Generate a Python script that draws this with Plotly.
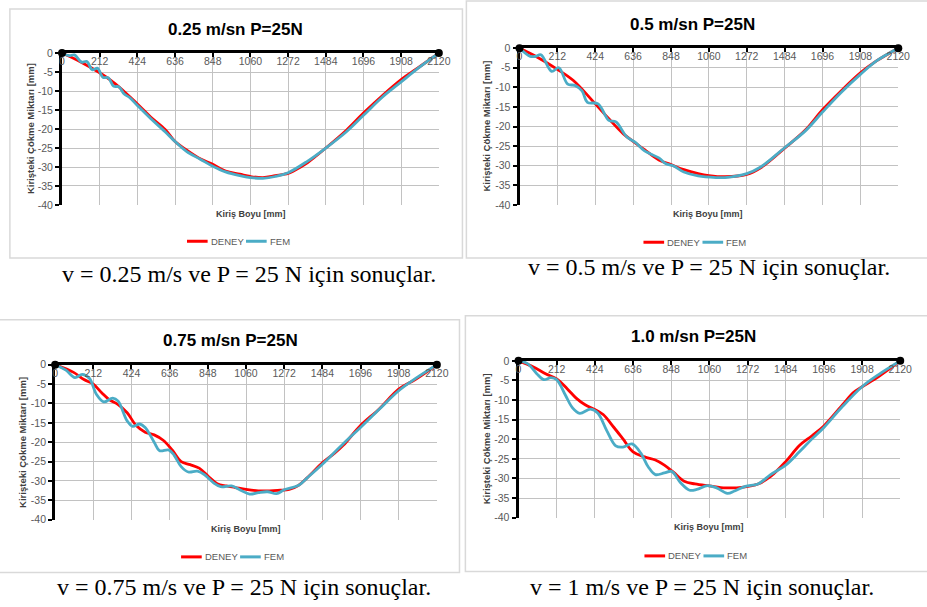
import plotly.graph_objects as go

W, H = 927, 607

# ---------------- data ----------------
x_ticks = [0, 212, 424, 636, 848, 1060, 1272, 1484, 1696, 1908, 2120]
y_ticks = [-40, -35, -30, -25, -20, -15, -10, -5, 0]

titles = ["0.25 m/sn P=25N", "0.5 m/sn P=25N", "0.75 m/sn P=25N", "1.0 m/sn P=25N"]
captions = ["v = 0.25 m/s ve P = 25 N için sonuçlar.",
            "v = 0.5 m/s ve P = 25 N için sonuçlar.",
            "v = 0.75 m/s ve P = 25 N için sonuçlar.",
            "v = 1 m/s ve P = 25 N için sonuçlar."]
x_title = "Kiriş Boyu [mm]"
y_title = "Kirişteki Çökme Miktarı [mm]"
series_names = ["DENEY", "FEM"]

# v = 0.25 m/s
deney1_x = [0, 100, 212, 300, 424, 500, 580, 636, 700, 780, 848, 920, 1000, 1060, 1130, 1200, 1272, 1300, 1380, 1484, 1600, 1696, 1800, 1908, 2000, 2120]
deney1_y = [0, -2.2, -5.2, -8.1, -13.4, -16.9, -20.1, -23.3, -25.5, -27.9, -29.3, -31.1, -31.9, -32.5, -32.8, -32.3, -31.7, -31.1, -28.9, -25.0, -20.3, -15.8, -11.3, -7.0, -4.0, 0]
fem1_x = [0, 40, 70, 110, 140, 170, 200, 230, 260, 290, 320, 350, 380, 424, 500, 580, 636, 700, 780, 848, 920, 1000, 1060, 1130, 1200, 1272, 1380, 1484, 1600, 1696, 1800, 1908, 2000, 2120]
fem1_y = [0, -0.7, -0.5, -2.4, -2.2, -4.4, -4.0, -6.4, -6.5, -8.7, -8.9, -10.8, -11.7, -13.8, -17.3, -20.7, -23.3, -25.9, -28.0, -29.8, -31.3, -32.3, -32.8, -33.0, -32.5, -31.5, -28.5, -25.0, -20.7, -16.4, -11.7, -7.6, -4.1, 0]

# v = 0.5 m/s
deney2_x = [0, 100, 212, 300, 424, 500, 580, 636, 700, 780, 848, 920, 1000, 1060, 1150, 1272, 1350, 1484, 1600, 1696, 1800, 1908, 2000, 2120]
deney2_y = [0, -2.3, -5.4, -8.2, -14.2, -18.0, -21.8, -23.8, -25.9, -28.5, -29.7, -31.0, -32.0, -32.5, -32.8, -32.2, -30.5, -25.5, -20.9, -15.7, -10.9, -6.3, -3.2, 0]
fem2_x = [0, 60, 90, 120, 180, 220, 270, 310, 350, 380, 440, 500, 540, 600, 650, 700, 780, 820, 860, 920, 1000, 1100, 1150, 1272, 1350, 1484, 1600, 1696, 1800, 1908, 2000, 2120]
fem2_y = [0, -2.1, -2.1, -1.7, -5.9, -5.0, -9.2, -9.5, -10.9, -13.8, -14.2, -18.4, -18.8, -22.6, -24.1, -26.2, -28.0, -29.5, -30.0, -31.6, -32.6, -33.0, -33.0, -32.0, -30.3, -25.4, -21.1, -16.3, -11.3, -6.7, -3.2, 0]

# v = 0.75 m/s
deney3_x = [0, 100, 160, 212, 260, 300, 350, 400, 450, 500, 550, 600, 650, 700, 750, 800, 850, 900, 950, 1000, 1060, 1150, 1250, 1300, 1350, 1400, 1484, 1550, 1600, 1696, 1800, 1908, 2000, 2120]
deney3_y = [0, -1.9, -3.8, -5.0, -7.3, -9.0, -10.3, -12.4, -15.7, -17.4, -18.1, -19.5, -22.0, -25.0, -25.8, -26.7, -28.8, -30.7, -31.3, -31.7, -32.2, -32.6, -32.4, -32.2, -31.2, -29.2, -25.3, -22.9, -20.8, -15.7, -11.4, -6.3, -3.8, 0]
fem3_x = [0, 60, 110, 150, 190, 230, 270, 320, 350, 400, 430, 470, 500, 550, 580, 630, 660, 700, 740, 790, 830, 880, 920, 980, 1030, 1080, 1130, 1180, 1230, 1272, 1350, 1400, 1484, 1600, 1696, 1800, 1908, 2000, 2120]
fem3_y = [0, -1.4, -3.3, -2.5, -3.5, -7.7, -9.6, -8.6, -9.4, -14.5, -15.9, -15.3, -16.2, -20.0, -22.2, -22.0, -23.3, -26.3, -27.7, -27.5, -28.4, -30.5, -31.5, -31.3, -32.4, -33.4, -33.0, -32.8, -33.3, -32.3, -31.2, -29.2, -25.7, -20.4, -16.2, -11.5, -6.7, -3.6, 0]

# v = 1.0 m/s
deney4_x = [0, 80, 150, 212, 270, 320, 370, 424, 470, 530, 580, 636, 700, 760, 810, 860, 920, 980, 1060, 1150, 1250, 1330, 1400, 1484, 1560, 1630, 1696, 1800, 1860, 1908, 2000, 2120]
deney4_y = [0, -1.5, -3.3, -4.6, -7.1, -9.5, -11.2, -12.4, -13.7, -17.0, -19.9, -23.2, -24.5, -25.3, -26.6, -28.4, -30.7, -31.4, -31.9, -32.4, -32.2, -31.4, -29.5, -25.7, -21.6, -19.1, -16.6, -11.2, -8.1, -6.6, -4.0, 0]
fem4_x = [0, 50, 100, 140, 180, 212, 260, 300, 340, 400, 440, 490, 540, 580, 630, 680, 720, 760, 810, 850, 900, 950, 990, 1050, 1100, 1160, 1200, 1260, 1330, 1400, 1484, 1560, 1630, 1696, 1800, 1908, 2000, 2120]
fem4_y = [0, -0.7, -3.2, -4.8, -4.3, -4.8, -8.7, -12.0, -13.4, -12.3, -13.3, -17.8, -21.7, -22.0, -21.2, -23.6, -27.0, -29.0, -28.6, -28.2, -31.1, -33.0, -32.8, -31.8, -32.4, -33.8, -33.2, -32.0, -31.4, -29.0, -26.6, -23.2, -19.9, -17.0, -11.6, -6.6, -3.5, 0]

end_x = [0, 2120]
end_y = [0, 0]

deney = [(deney1_x, deney1_y), (deney2_x, deney2_y), (deney3_x, deney3_y), (deney4_x, deney4_y)]
fem = [(fem1_x, fem1_y), (fem2_x, fem2_y), (fem3_x, fem3_y), (fem4_x, fem4_y)]

# ---------------- layout (window pixel geometry) ----------------
plot_px = [(60, 443, 48, 203), (525, 910, 43, 203), (53, 441, 366, 524), (524, 912, 362, 522)]
box_px = [(7, 467, 3, 257), (471, 940, -5, 257), (-5, 464, 320, 578), (470, 940, 316, 577)]
title_pos = [(236, 24), (701, 19), (231, 341), (702, 337)]
xlab_pos = [(252, 212), (717, 212), (247, 534), (718, 532)]
ylab_pos = [(28, 125), (492, 123), (20, 445), (491, 442)]
leg_start = [187, 651, 181, 652]
leg_y = [240, 241, 562, 561]
cap_pos = [(250, 273), (718, 266), (245, 593), (710, 593)]

RED = "#FF0000"
BLUE = "#4BACC6"
GRAY = "#595959"
FONT = "Liberation Sans"


def px(x):
    return x / W


def py(y):
    return 1 - y / H


fig = go.Figure()
layout = dict(width=W, height=H, margin=dict(l=0, r=0, t=0, b=0),
              paper_bgcolor="white", plot_bgcolor="white", showlegend=False)
annotations = []
shapes = []

for i in range(4):
    n = "" if i == 0 else str(i + 1)
    xa, ya = "x" + n, "y" + n
    x0, x1, y0, y1 = plot_px[i]
    layout["xaxis" + n] = dict(
        domain=[px(x0), px(x1)], anchor=ya, side="top", range=[0, 2120],
        tickvals=x_ticks, ticktext=[str(v) for v in x_ticks],
        ticklabelposition="inside", ticklabeloverflow="allow",
        ticks="inside", ticklen=4, tickwidth=2, tickcolor="black",
        showline=True, linecolor="black", linewidth=3,
        showgrid=True, gridcolor="#c2c2c2", gridwidth=1, zeroline=False,
        tickfont=dict(family=FONT, size=10.5, color=GRAY), fixedrange=True)
    layout["yaxis" + n] = dict(
        domain=[py(y1), py(y0)], anchor=xa, range=[-40, 0],
        tickvals=y_ticks, ticktext=[str(v) for v in y_ticks],
        ticklabeloverflow="allow",
        ticks="outside", ticklen=4, tickwidth=2, tickcolor="black",
        showline=True, linecolor="black", linewidth=3,
        showgrid=True, gridcolor="#c2c2c2", gridwidth=1, zeroline=False,
        tickfont=dict(family=FONT, size=10.5, color=GRAY), fixedrange=True)

    fig.add_trace(go.Scatter(x=deney[i][0], y=deney[i][1], mode="lines", name=series_names[0],
                             line=dict(color=RED, width=2.8, shape="spline", smoothing=1),
                             xaxis=xa, yaxis=ya, hoverinfo="skip"))
    fig.add_trace(go.Scatter(x=fem[i][0], y=fem[i][1], mode="lines", name=series_names[1],
                             line=dict(color=BLUE, width=2.8, shape="spline", smoothing=1),
                             xaxis=xa, yaxis=ya, hoverinfo="skip"))
    fig.add_trace(go.Scatter(x=end_x, y=end_y, mode="markers", showlegend=False,
                             marker=dict(color="black", size=8), cliponaxis=False,
                             xaxis=xa, yaxis=ya, hoverinfo="skip"))

    # legend (drawn as line swatches + labels)
    L, LY = leg_start[i], leg_y[i]
    for k, (col, name) in enumerate([(RED, series_names[0]), (BLUE, series_names[1])]):
        sx = L + 60 * k
        shapes.append(dict(type="line", xref="paper", yref="paper",
                           x0=px(sx), x1=px(sx + 21), y0=py(LY), y1=py(LY),
                           line=dict(color=col, width=3)))
        annotations.append(dict(text=name, x=px(sx + 22), y=py(LY), xref="paper", yref="paper",
                                showarrow=False, xanchor="left", yanchor="middle",
                                font=dict(family=FONT, size=9.5, color=GRAY)))

    bx0, bx1, by0, by1 = box_px[i]
    shapes.append(dict(type="rect", xref="paper", yref="paper",
                       x0=px(bx0), x1=px(bx1), y0=py(by1), y1=py(by0),
                       line=dict(color="#d9d9d9", width=1.5), fillcolor="rgba(0,0,0,0)", layer="below"))

    tx, ty = title_pos[i]
    annotations.append(dict(text="<b>" + titles[i] + "</b>", x=px(tx), y=py(ty), xref="paper", yref="paper",
                            showarrow=False, xanchor="center", yanchor="middle",
                            font=dict(family=FONT, size=17, color="black")))
    xx, xy = xlab_pos[i]
    annotations.append(dict(text="<b>" + x_title + "</b>", x=px(xx), y=py(xy), xref="paper", yref="paper",
                            showarrow=False, xanchor="center", yanchor="middle",
                            font=dict(family=FONT, size=9, color="#404040")))
    yx, yy = ylab_pos[i]
    annotations.append(dict(text="<b>" + y_title + "</b>", x=px(yx), y=py(yy), xref="paper", yref="paper",
                            showarrow=False, xanchor="center", yanchor="middle", textangle=-90,
                            font=dict(family=FONT, size=9.5, color="#404040")))
    cx, cy = cap_pos[i]
    annotations.append(dict(text=captions[i], x=px(cx), y=py(cy), xref="paper", yref="paper",
                            showarrow=False, xanchor="center", yanchor="middle",
                            font=dict(family="Liberation Serif", size=24, color="black")))

layout["annotations"] = annotations
layout["shapes"] = shapes
fig.update_layout(**layout)

# the figure fills the whole 927x607 window: no page margin, no scrollbars, no mode bar
fig.write_html("out.html", config={"displayModeBar": False},
               post_script="document.body.style.margin='0';document.body.style.overflow='hidden';")
